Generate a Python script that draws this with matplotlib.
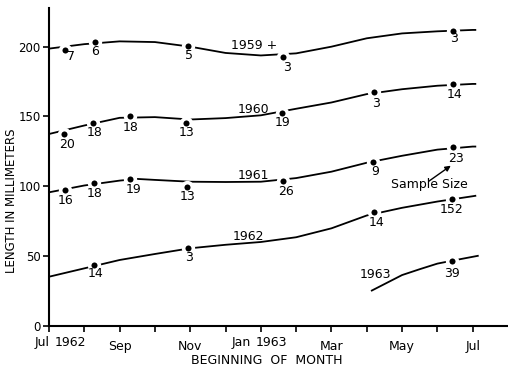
import matplotlib
matplotlib.use("Agg")
import matplotlib.pyplot as plt

# x axis: months counted from the beginning of Jul 1962
tick_months = list(range(13))
tick_names = ["", "", "Sep", "", "Nov", "", "", "", "Mar", "", "May", "", "Jul"]

# observed mean lengths (dots) with sample sizes, and the fitted growth curves
x_1959 = [0.45, 1.3, 3.93, 6.64, 11.44]
y_1959 = [197.6, 203.6, 200.5, 192.4, 211.3]
n_1959 = ["7", "6", "5", "3", "3"]
cx_1959 = [0, 1, 2, 3, 4, 5, 6, 7, 8, 9, 10, 11, 12, 12.1]
cy_1959 = [198.6, 201.8, 203.8, 203.3, 200.0, 195.5, 193.7, 195.2, 200.0, 206.0, 209.5, 211.0, 212.0, 212.0]

x_1960 = [0.42, 1.25, 2.3, 3.89, 6.59, 9.21, 11.44]
y_1960 = [137.4, 145.1, 150.3, 145.1, 152.7, 167.5, 173.3]
n_1960 = ["20", "18", "18", "13", "19", "3", "14"]
cx_1960 = [0, 1, 2, 3, 4, 5, 6, 7, 8, 9, 10, 11, 12, 12.1]
cy_1960 = [137.4, 143.5, 149.0, 149.5, 147.8, 148.8, 150.8, 155.5, 160.0, 166.0, 169.5, 172.0, 173.3, 173.3]

x_1961 = [0.45, 1.28, 2.3, 3.91, 6.62, 9.18, 11.44]
y_1961 = [97.3, 102.1, 104.9, 99.6, 103.7, 117.6, 128.3]
n_1961 = ["16", "18", "19", "13", "26", "9", "23"]
cx_1961 = [0, 1, 2, 2.5, 3, 4, 5, 6, 7, 8, 9, 10, 11, 12, 12.1]
cy_1961 = [95.6, 100.5, 104.0, 105.2, 104.5, 103.2, 103.0, 103.2, 105.8, 110.4, 116.8, 121.8, 126.2, 128.4, 128.4]

x_1962 = [1.28, 3.95, 9.21, 11.42]
y_1962 = [43.5, 55.5, 81.3, 90.8]
n_1962 = ["14", "3", "14", "152"]
cx_1962 = [0, 1, 2, 3, 4, 5, 6, 7, 8, 9, 10, 11, 12, 12.1]
cy_1962 = [35.1, 41.1, 47.1, 51.4, 55.5, 58.0, 60.0, 63.4, 69.8, 79.0, 84.5, 89.0, 92.8, 93.2]

x_1963 = [11.42]
y_1963 = [46.6]
n_1963 = ["39"]
cx_1963 = [9.12, 10, 10.5, 11, 11.42, 12.17]
cy_1963 = [24.9, 36.3, 40.5, 44.5, 46.6, 50.2]

# pixel offsets of the sample size numbers from their dots
off_1959 = [(6, -6), (0, -10), (1, -10), (4, -10), (1, -8)]
off_1960 = [(3, -10), (1, -9), (0, -11), (0, -9), (1, -10), (2, -11), (2, -11)]
off_1961 = [(1, -11), (0, -10), (3, -10), (0, -10), (3, -10), (2, -10), (3, -12)]
off_1962 = [(1, -8), (1, -9), (2, -10), (-1, -10)]
off_1963 = [(0, -13)]

series = [
    ("1959 +", x_1959, y_1959, n_1959, cx_1959, cy_1959, off_1959, (5.8, 200.6)),
    ("1960", x_1960, y_1960, n_1960, cx_1960, cy_1960, off_1960, (5.8, 155.0)),
    ("1961", x_1961, y_1961, n_1961, cx_1961, cy_1961, off_1961, (5.8, 108.0)),
    ("1962", x_1962, y_1962, n_1962, cx_1962, cy_1962, off_1962, (5.65, 63.8)),
    ("1963", x_1963, y_1963, n_1963, cx_1963, cy_1963, off_1963, (9.24, 36.9)),
]

fs = 9
fig = plt.figure(figsize=(5.08, 3.68), dpi=100)
ax = fig.add_axes([49 / 508, 1 - 325.7 / 368, 1 - 49 / 508, (325.7 - 8.3) / 368])

for name, xs, ys, ns, cxs, cys, offs, lab in series:
    ax.plot(cxs, cys, color="black", lw=1.3, solid_capstyle="butt", zorder=2)
    # white rim around each dot breaks the curve like the hand-drawn original
    ax.plot(xs, ys, "o", color="black", ms=7, mec="white", mew=2.6, zorder=3)
    for x, y, n, (dx, dy) in zip(xs, ys, ns, offs):
        ax.annotate(n, (x, y), xytext=(dx, dy), textcoords="offset pixels",
                    ha="center", va="center", fontsize=fs, zorder=4)
    ax.text(lab[0], lab[1], name, ha="center", va="center", fontsize=fs, zorder=4)

# sample size note with its arrow pointing at the "23"
ax.text(10.76, 100.9, "Sample Size", ha="center", va="center", fontsize=fs)
ax.annotate("", xy=(11.38, 114.7), xytext=(10.76, 103.6),
            arrowprops=dict(arrowstyle="-|>", color="black", lw=1.0,
                            mutation_scale=8, shrinkA=0, shrinkB=0))

ax.set_xlim(0, 13)
ax.set_ylim(0, 227.5)
ax.set_yticks([0, 50, 100, 150, 200])
ax.set_xticks(tick_months)
ax.set_xticklabels(tick_names)
ax.tick_params(direction="out", length=4, width=1.2, labelsize=fs, pad=2)
ax.tick_params(axis="y", labelsize=8.5)
ax.tick_params(axis="x", pad=6)
for side in ["top", "right"]:
    ax.spines[side].set_visible(False)
for side in ["left", "bottom"]:
    ax.spines[side].set_linewidth(1.5)

# month/year labels that sit off their ticks
trans = ax.get_xaxis_transform()
for xm, txt in [(-0.2, "Jul"), (0.6, "1962"), (5.45, "Jan"), (6.3, "1963")]:
    ax.text(xm, -17 / 317.4, txt, transform=trans, ha="center", va="center",
            fontsize=fs, clip_on=False)

fig.text(267 / 508, 1 - 360 / 368, "BEGINNING  OF  MONTH", ha="center",
         va="center", fontsize=fs)
fig.text(12 / 508, 1 - 201 / 368, "LENGTH IN MILLIMETERS", ha="center",
         va="center", rotation=90, fontsize=8.5)

fig.savefig("out.png", dpi=100)
